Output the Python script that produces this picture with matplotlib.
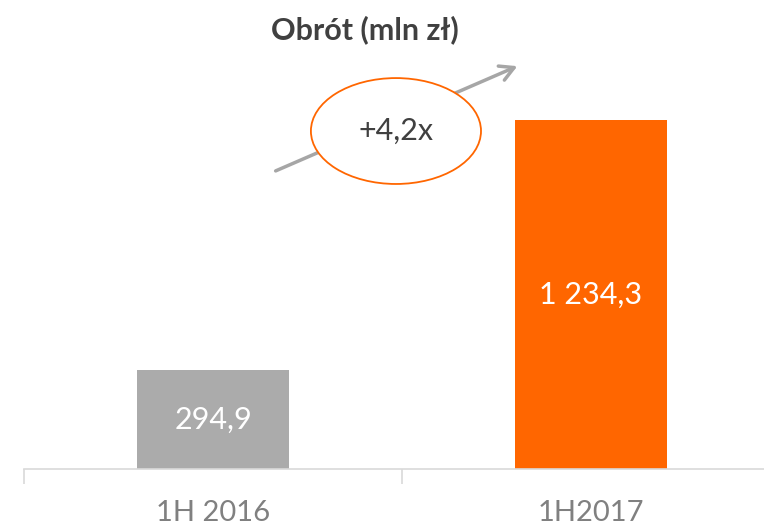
import numpy as np
import matplotlib.pyplot as plt
from matplotlib.patches import Ellipse

okresy = ['1H 2016', '1H2017']
obrot = np.array([294.9, 1234.3])
etykiety = ['294,9', '1 234,3']
kolory = ['#ababab', '#ff6600']
wzrost = '+4,2x'

plt.rcParams['font.family'] = ['Lato', 'DejaVu Sans']

fig = plt.figure(figsize=(7.64, 5.28), dpi=100)
ax = fig.add_axes([24 / 764, 59 / 528, 756 / 764, 469 / 528])

# os w oryginale nie zaczyna sie od zera
podstawa = -77.1
x = np.arange(len(okresy))
ax.bar(x, obrot - podstawa, bottom=podstawa, width=0.4, color=kolory)
ax.set_xlim(-0.5, 1.5)
ax.set_ylim(podstawa, podstawa + 1762.5)

for xi, v, t in zip(x, obrot, etykiety):
    ax.text(xi, (podstawa + v) / 2, t, ha='center', va='center',
            color='white', fontsize=22)

# strzalka i elipsa z mnoznikiem
ax.annotate('', xy=(0.812, 1441), xytext=(0.159, 1039),
            arrowprops=dict(arrowstyle='->,head_length=1.0,head_width=0.55',
                            color='#a6a6a6', lw=2.5))
ax.add_patch(Ellipse((0.484, 1193), 0.45, 398, facecolor='white',
                     edgecolor='#ff6600', lw=1.3, zorder=3))
ax.text(0.484, 1193, wzrost, ha='center', va='center', fontsize=22,
        color='#404040', zorder=4)

for s in ['top', 'right', 'left']:
    ax.spines[s].set_visible(False)
ax.spines['bottom'].set_color('#d9d9d9')
ax.spines['bottom'].set_linewidth(1.2)
ax.set_yticks([])
ax.set_xticks(x)
ax.set_xticklabels(okresy, fontsize=21, color='#808080')
ax.tick_params(axis='x', length=0, pad=22)
ax.set_xticks([-0.5, 0.5, 1.5], minor=True)
ax.tick_params(axis='x', which='minor', length=11, width=1.2, color='#d9d9d9')

fig.text(365 / 764, 1 - 30 / 528, 'Obrót (mln zł)', ha='center', va='center',
         fontsize=22, fontweight='bold', color='#404040')

fig.savefig('out.png', dpi=100)
